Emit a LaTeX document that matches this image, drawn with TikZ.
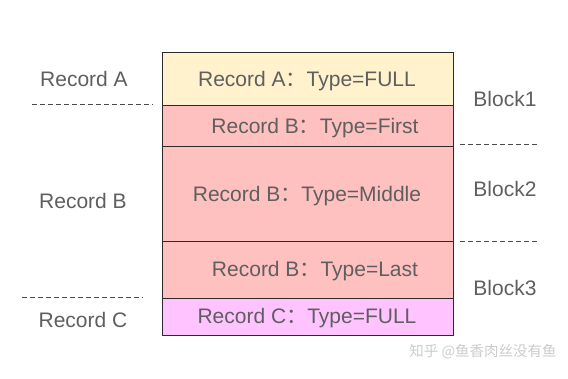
\documentclass[tikz,border=0pt]{standalone}
\usepackage{fontspec}
\setmainfont{Liberation Sans}
\newfontfamily\cjk{Noto Sans CJK SC}
\definecolor{txt}{HTML}{5F5F5F}
\definecolor{fa}{HTML}{FFF2CC}
\definecolor{fb}{HTML}{FFC0C0}
\definecolor{fc}{HTML}{FFC4FF}
\definecolor{edge}{HTML}{2A2A2A}
\begin{document}
\begin{tikzpicture}[x=1pt,y=-1pt,
  lbl/.style={text=txt,font=\fontsize{21}{23}\selectfont,inner sep=0pt,anchor=base},
  rec/.style={draw=edge,line width=0.9pt},
  sep/.style={draw=edge!85,line width=0.8pt,dash pattern=on 5pt off 3pt}]
\useasboundingbox (0,0) rectangle (568,378);
\path[fill=white] (0,0) rectangle (568,378);
% cells
\path[rec,fill=fa] (162,52) rectangle (453,105);
\path[rec,fill=fb] (162,105) rectangle (453,146);
\path[rec,fill=fb] (162,146) rectangle (453,241);
\path[rec,fill=fb] (162,241) rectangle (453,298);
\path[rec,fill=fc] (162,298) rectangle (453,335);
\node[lbl] (ta) at (307,86.5) {Record A{\cjk ：}Type=FULL};
\node[lbl] (tb1) at (315,133) {Record B{\cjk ：}Type=First};
\node[lbl] (tb2) at (307,201) {Record B{\cjk ：}Type=Middle};
\node[lbl] (tb3) at (315,276) {Record B{\cjk ：}Type=Last};
\node[lbl] (tc) at (307,323.5) {Record C{\cjk ：}Type=FULL};
% left labels
\node[lbl] (ra) at (84,86) {Record A};
\node[lbl] (rb) at (83,208) {Record B};
\node[lbl] (rc) at (83,327.5) {Record C};
\coordinate (la1) at (32,104);
\coordinate (la2) at (153,104);
\coordinate (lc1) at (22,297);
\coordinate (lc2) at (143,297);
\draw[sep] (la1) -- (la2);
\draw[sep] (lc1) -- (lc2);
% right labels
\node[lbl] (b1) at (505,106.5) {Block1};
\node[lbl] (b2) at (505,196) {Block2};
\node[lbl] (b3) at (505,295) {Block3};
\coordinate (r11) at (460,144);
\coordinate (r12) at (537,144);
\coordinate (r21) at (460,241);
\coordinate (r22) at (537,241);
\draw[sep] (r11) -- (r12);
\draw[sep] (r21) -- (r22);
% watermark
\node[text=black!20,font=\cjk\fontsize{14.5}{16}\selectfont,inner sep=0pt] (wm) at (483,352) {知乎 @鱼香肉丝没有鱼};
\end{tikzpicture}
\end{document}
